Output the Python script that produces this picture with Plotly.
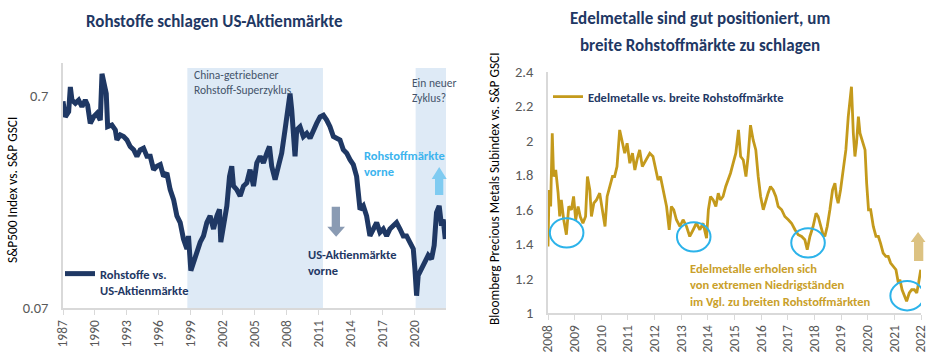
import math
import plotly.graph_objects as go

# ---------------- data ----------------
left_years = [1987.00, 1987.10, 1987.22, 1987.53, 1987.69, 1987.84, 1988.16, 1988.47, 1988.78, 1989.09,
              1989.31, 1989.56, 1989.88, 1990.19, 1990.50, 1990.66, 1990.88, 1991.06, 1991.19, 1991.59,
              1991.91, 1992.06, 1992.38, 1992.69, 1993.00, 1993.31, 1993.63, 1993.94, 1994.25, 1994.56,
              1994.88, 1995.19, 1995.50, 1995.81, 1996.13, 1996.44, 1996.75, 1997.06, 1997.38, 1997.69,
              1998.00, 1998.31, 1998.63, 1998.78, 1999.00, 1999.25, 1999.56, 1999.88, 2000.19, 2000.50,
              2000.81, 2001.13, 2001.44, 2001.69, 2001.81, 2002.06, 2002.38, 2002.63, 2002.84, 2003.00,
              2003.31, 2003.63, 2003.94, 2004.25, 2004.56, 2004.88, 2005.19, 2005.50, 2005.81, 2006.13,
              2006.38, 2006.59, 2006.91, 2007.22, 2007.53, 2007.84, 2008.06, 2008.31, 2008.47, 2008.63,
              2008.78, 2008.94, 2009.25, 2009.56, 2009.88, 2010.19, 2010.50, 2010.81, 2011.13, 2011.44,
              2011.75, 2012.06, 2012.38, 2012.69, 2013.00, 2013.31, 2013.63, 2013.94, 2014.25, 2014.56,
              2014.72, 2014.88, 2015.19, 2015.50, 2015.81, 2016.13, 2016.44, 2016.75, 2017.06, 2017.38,
              2017.69, 2018.00, 2018.31, 2018.63, 2018.94, 2019.25, 2019.56, 2019.88, 2020.03, 2020.19,
              2020.34, 2020.66, 2020.97, 2021.28, 2021.59, 2021.84, 2022.06, 2022.31, 2022.53, 2022.69,
              2022.88]
left_values = [0.660, 0.570, 0.558, 0.589, 0.771, 0.668, 0.645, 0.668, 0.622, 0.668,
               0.633, 0.519, 0.558, 0.579, 0.538, 0.890, 0.771, 0.718, 0.501, 0.510,
               0.484, 0.434, 0.458, 0.450, 0.434, 0.404, 0.390, 0.363, 0.390, 0.397,
               0.363, 0.363, 0.314, 0.326, 0.332, 0.292, 0.303, 0.253, 0.227, 0.190,
               0.177, 0.148, 0.133, 0.153, 0.105, 0.115, 0.133, 0.143, 0.153, 0.177,
               0.190, 0.165, 0.190, 0.204, 0.143, 0.171, 0.212, 0.292, 0.326, 0.263,
               0.253, 0.236, 0.263, 0.272, 0.314, 0.263, 0.338, 0.363, 0.338, 0.376,
               0.404, 0.326, 0.282, 0.326, 0.376, 0.484, 0.579, 0.718, 0.600, 0.450,
               0.363, 0.484, 0.501, 0.450, 0.466, 0.442, 0.484, 0.519, 0.558, 0.568,
               0.538, 0.501, 0.450, 0.442, 0.434, 0.390, 0.376, 0.350, 0.332, 0.292,
               0.244, 0.204, 0.212, 0.190, 0.153, 0.165, 0.177, 0.159, 0.165, 0.153,
               0.165, 0.171, 0.177, 0.165, 0.153, 0.153, 0.143, 0.133, 0.107, 0.080,
               0.0996, 0.107, 0.115, 0.124, 0.119, 0.138, 0.197, 0.212, 0.171, 0.183,
               0.148]
left_tick_years = [1987, 1990, 1993, 1996, 1999, 2002, 2005, 2008, 2011, 2014, 2017, 2020]
left_y_ticks = [0.07, 0.7]
left_y_labels = ["0.07", "0.7"]
shade_periods = [(1998.67, 2011.4), (2020.1, 2022.95)]

right_years = [2008.00, 2008.04, 2008.10, 2008.16, 2008.21, 2008.29, 2008.38, 2008.44, 2008.50, 2008.59,
               2008.69, 2008.78, 2008.88, 2008.96, 2009.04, 2009.13, 2009.21, 2009.31, 2009.41, 2009.48,
               2009.57, 2009.63, 2009.72, 2009.82, 2009.94, 2010.04, 2010.14, 2010.22, 2010.32, 2010.42,
               2010.50, 2010.59, 2010.69, 2010.79, 2010.88, 2010.97, 2011.07, 2011.17, 2011.26, 2011.34,
               2011.44, 2011.54, 2011.67, 2011.76, 2011.82, 2011.94, 2012.04, 2012.13, 2012.22, 2012.32,
               2012.45, 2012.55, 2012.63, 2012.72, 2012.82, 2012.95, 2013.07, 2013.20, 2013.32, 2013.45,
               2013.57, 2013.70, 2013.82, 2013.95, 2014.02, 2014.10, 2014.20, 2014.30, 2014.39, 2014.47,
               2014.57, 2014.67, 2014.76, 2014.85, 2014.95, 2015.05, 2015.15, 2015.23, 2015.33, 2015.43,
               2015.51, 2015.60, 2015.70, 2015.80, 2015.89, 2015.98, 2016.08, 2016.18, 2016.26, 2016.35,
               2016.45, 2016.55, 2016.64, 2016.77, 2016.89, 2017.02, 2017.14, 2017.27, 2017.39, 2017.52,
               2017.64, 2017.73, 2017.83, 2017.95, 2018.06, 2018.14, 2018.21, 2018.31, 2018.39, 2018.48,
               2018.58, 2018.68, 2018.77, 2018.83, 2018.89, 2018.98, 2019.08, 2019.18, 2019.27, 2019.36,
               2019.39, 2019.46, 2019.52, 2019.58, 2019.65, 2019.71, 2019.81, 2019.90, 2019.96, 2020.03,
               2020.11, 2020.21, 2020.31, 2020.40, 2020.48, 2020.58, 2020.68, 2020.77, 2020.86, 2020.96,
               2021.06, 2021.15, 2021.21, 2021.29, 2021.37, 2021.46, 2021.56, 2021.65, 2021.75, 2021.84,
               2021.91, 2021.99]
right_values = [1.386, 1.714, 1.618, 2.043, 1.792, 1.830, 1.695, 1.560, 1.656, 1.541,
                1.454, 1.618, 1.599, 1.676, 1.541, 1.618, 1.560, 1.521, 1.560, 1.792,
                1.714, 1.560, 1.637, 1.656, 1.695, 1.599, 1.502, 1.676, 1.734, 1.792,
                1.792, 1.850, 2.062, 1.985, 1.927, 1.985, 1.869, 1.927, 1.830, 1.888,
                1.946, 1.850, 1.888, 1.908, 1.927, 1.908, 1.830, 1.772, 1.792, 1.714,
                1.618, 1.483, 1.618, 1.599, 1.541, 1.502, 1.541, 1.502, 1.444, 1.483,
                1.521, 1.483, 1.521, 1.434, 1.599, 1.676, 1.656, 1.618, 1.695, 1.656,
                1.676, 1.734, 1.772, 1.811, 1.869, 1.927, 2.062, 1.908, 1.888, 1.792,
                1.908, 2.090, 2.004, 1.946, 1.792, 1.676, 1.599, 1.656, 1.695, 1.734,
                1.714, 1.676, 1.618, 1.599, 1.560, 1.541, 1.521, 1.483, 1.454, 1.444,
                1.425, 1.367, 1.444, 1.502, 1.579, 1.560, 1.521, 1.463, 1.444, 1.502,
                1.599, 1.714, 1.753, 1.676, 1.637, 1.714, 1.830, 1.946, 2.139, 2.274,
                2.313, 2.043, 1.908, 1.985, 2.139, 2.043, 1.985, 1.946, 1.753, 1.599,
                1.599, 1.502, 1.444, 1.444, 1.405, 1.348, 1.328, 1.328, 1.290, 1.270,
                1.251, 1.174, 1.193, 1.135, 1.097, 1.068, 1.116, 1.135, 1.135, 1.116,
                1.174, 1.251]
right_tick_years = list(range(2008, 2023))
right_y_ticks = [1, 1.2, 1.4, 1.6, 1.8, 2, 2.2, 2.4]
right_y_labels = ["1", "1.2", "1.4", "1.6", "1.8", "2", "2.2", "2.4"]
# low points marked with circles: (year, value)
circle_marks = [(2008.70, 1.465), (2013.47, 1.442), (2017.76, 1.407), (2021.48, 1.100)]

# ---------------- style ----------------
W, H = 939, 364
NAVY = "#1f3864"
GOLD = "#c49a1c"
LBLUE = "#2cb3ea"
GRAY_TXT = "#595959"
AXIS = "#d9d9d9"
FONT = "Carlito, 'Liberation Sans Narrow', 'Open Sans', sans-serif"


def px(x):
    return x / W


def py(y):
    return 1 - y / H


fig = go.Figure()
fig.add_trace(go.Scatter(x=left_years, y=left_values, mode="lines",
                         line=dict(color=NAVY, width=5),
                         name="Rohstoffe vs.<br>US-Aktienmärkte",
                         xaxis="x", yaxis="y", legend="legend", showlegend=True))
fig.add_trace(go.Scatter(x=right_years, y=right_values, mode="lines",
                         line=dict(color=GOLD, width=2.8),
                         name="Edelmetalle vs. breite Rohstoffmärkte",
                         xaxis="x2", yaxis="y2", legend="legend2", showlegend=True))

shapes = []
for a, b in shade_periods:
    shapes.append(dict(type="rect", xref="x", yref="y domain", x0=a, x1=b, y0=0, y1=0.98,
                       fillcolor="#deeaf6", line=dict(width=0), layer="below"))
for cx, cy in circle_marks:
    shapes.append(dict(type="circle", xref="x2", yref="y2",
                       x0=cx - 0.63, x1=cx + 0.63, y0=cy - 0.085, y1=cy + 0.085,
                       line=dict(color=LBLUE, width=2)))


def up_arrow(xl, xr, sl, sr, tip, base, bottom, color):
    xm = (xl + xr) / 2
    path = (f"M {px(sl)},{py(bottom)} L {px(sl)},{py(base)} L {px(xl)},{py(base)} "
            f"L {px(xm)},{py(tip)} L {px(xr)},{py(base)} L {px(sr)},{py(base)} "
            f"L {px(sr)},{py(bottom)} Z")
    return dict(type="path", xref="paper", yref="paper", path=path,
                fillcolor=color, line=dict(width=0))


shapes.append(up_arrow(431.7, 446.7, 435.0, 443.3, 167, 179, 195, "#7fcbf1"))
shapes.append(up_arrow(327.3, 345.0, 331.7, 340.0, 236.7, 226.7, 206.7, "#8a9bb3"))
shapes.append(up_arrow(910.7, 925.5, 914.0, 923.3, 232, 242, 261, "#dcc282"))

ann = []


def text(x, y, s, size, color, bold=False, xanchor="left", family=FONT, angle=0):
    ann.append(dict(x=px(x), y=py(y), xref="paper", yref="paper", text=s, showarrow=False,
                    xanchor=xanchor, yanchor="middle", align="left" if xanchor == "left" else "center",
                    textangle=angle,
                    font=dict(size=size, color=color, family=family,
                              weight="bold" if bold else "normal")))


text(214, 21, "Rohstoffe schlagen US-Aktienmärkte", 17, NAVY, True, "center")
text(700, 18, "Edelmetalle sind gut positioniert, um", 17, NAVY, True, "center")
text(700, 45, "breite Rohstoffmärkte zu schlagen", 17, NAVY, True, "center")
text(192, 83, "China-getriebener<br>Rohstoff-Superzyklus", 11.5, "#44546a")
text(410, 90, "Ein neuer<br>Zyklus?", 11.5, "#44546a")
text(362, 163, "Rohstoffmärkte<br>vorne", 12.5, "#3cb4ee", True)
text(306, 262, "US-Aktienmärkte<br>vorne", 12.5, NAVY, True)
text(688, 285, "Edelmetalle erholen sich<br>von extremen Niedrigständen<br>im Vgl. zu breiten Rohstoffmärkten",
     12.5, "#c9a02a", True)
text(12, 190, "S&P500 Index vs. S&P GSCI", 13.4, "#000000", False, "center", angle=-90)
text(494, 189, "Bloomberg Precious Metals Subindex vs. S&P GSCI", 13.4, "#000000", False, "center", angle=-90)

xcommon = dict(showgrid=False, zeroline=False, showline=True, linecolor=AXIS, linewidth=1.5,
               ticks="outside", ticklen=5, tickcolor=AXIS, tickangle=-90,
               tickfont=dict(size=13.5, color=GRAY_TXT, family=FONT))
ycommon = dict(showgrid=False, zeroline=False, showline=True, linecolor=AXIS, linewidth=1.5,
               ticks="", tickfont=dict(size=14.5, color=GRAY_TXT, family=FONT), ticklabelstandoff=10)

fig.update_layout(
    width=W, height=H,
    margin=dict(l=0, r=0, t=0, b=0, autoexpand=False),
    paper_bgcolor="white", plot_bgcolor="white",
    font=dict(family=FONT),
    showlegend=True,
    xaxis=dict(domain=[px(63), px(446)], range=[1987, 2022.95], anchor="y",
               tickvals=left_tick_years, ticktext=[str(v) for v in left_tick_years], **xcommon),
    yaxis=dict(domain=[py(308), py(63)], type="log", range=[math.log10(0.07), 0], anchor="x",
               tickvals=left_y_ticks, ticktext=left_y_labels, **ycommon),
    xaxis2=dict(domain=[px(548), px(921)], range=[2008, 2022], anchor="y2",
                tickvals=right_tick_years, ticktext=[str(v) for v in right_tick_years], **xcommon),
    yaxis2=dict(domain=[py(313), py(71.7)], range=[1, 2.4], anchor="x2",
                tickvals=right_y_ticks, ticktext=right_y_labels, **ycommon),
    legend=dict(x=px(60), y=py(259), xanchor="left", yanchor="top", valign="top",
                bgcolor="rgba(0,0,0,0)", font=dict(size=12.5, color=NAVY, family=FONT, weight="bold")),
    legend2=dict(x=px(548), y=py(82), xanchor="left", yanchor="top", valign="top",
                 bgcolor="rgba(0,0,0,0)", font=dict(size=12.5, color=NAVY, family=FONT, weight="bold")),
    shapes=shapes,
    annotations=ann,
)

fig.write_html("out.html", config={"displayModeBar": False},
               post_script="document.body.style.margin='0';")
